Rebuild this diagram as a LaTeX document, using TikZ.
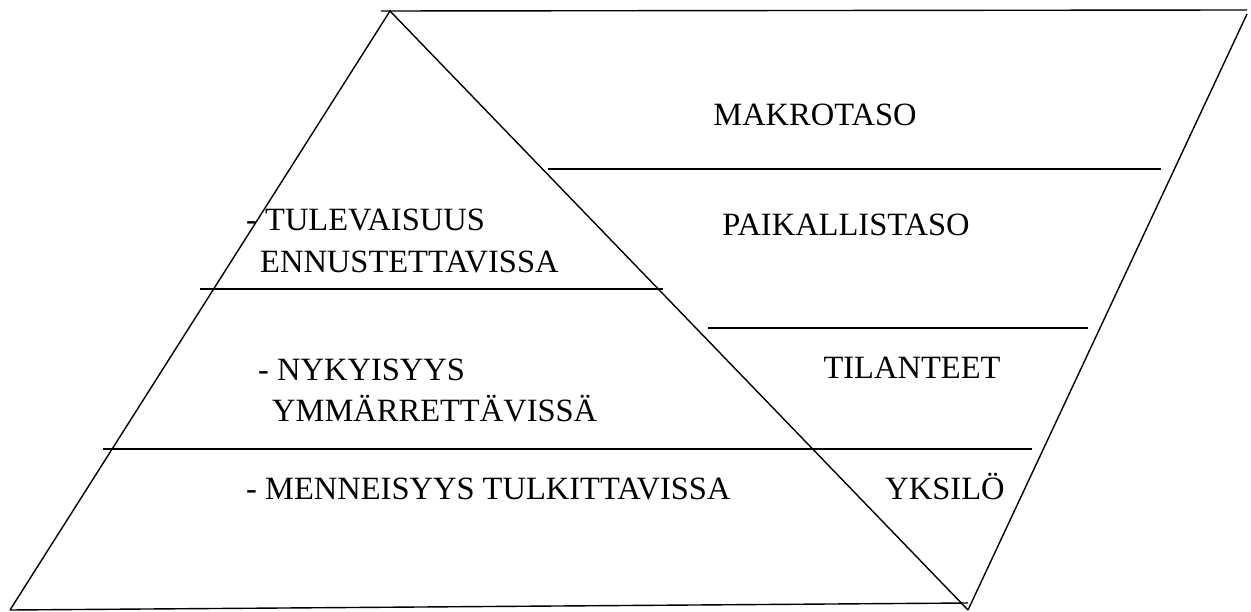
\documentclass[tikz,border=0pt]{standalone}
\usepackage{fontspec}
\setmainfont{Liberation Serif}
\begin{document}
\begin{tikzpicture}[x=1pt,y=-1pt,
  ln/.style={line width=1.4pt,black},
  lbl/.style={anchor=base west,inner sep=0pt,font=\fontsize{32.5}{36}\selectfont},
  lblc/.style={anchor=base,inner sep=0pt,font=\fontsize{32.5}{36}\selectfont}]
\useasboundingbox (0,0) rectangle (1251,612);
% vertices
\coordinate (apex) at (390,11);
\coordinate (bl) at (10,610);
\coordinate (br) at (968,610);
\coordinate (tl) at (381,11);
\coordinate (tr) at (1247,10);
\coordinate (rt) at (1247,14);
\coordinate (bend) at (968,603);
% triangle and parallelogram
\draw[ln] (bl) -- (apex) -- (br);
\draw[ln] (tl) -- (tr);
\draw[ln] (rt) -- (br);
\draw[ln] (bl) -- (bend);
% level lines
\coordinate (a1) at (200,289); \coordinate (a2) at (663,289);
\coordinate (b1) at (103,449); \coordinate (b2) at (1032,449);
\coordinate (c1) at (548,169); \coordinate (c2) at (1161,169);
\coordinate (d1) at (708,328); \coordinate (d2) at (1088,328);
\draw[ln] (a1) -- (a2);
\draw[ln] (b1) -- (b2);
\draw[ln] (c1) -- (c2);
\draw[ln] (d1) -- (d2);
% labels
\node[lblc] (makro) at (815,126) {MAKROTASO};
\node[lblc] (paik) at (846,236) {PAIKALLISTASO};
\node[lblc] (tilan) at (912,379) {TILANTEET};
\node[lblc] (yksi) at (945,499) {YKSILÖ};
\node[lbl] (tul1) at (246,231) {- TULEVAISUUS};
\node[lbl] (tul2) at (260,273) {ENNUSTETTAVISSA};
\node[lbl] (nyk1) at (258,381) {- NYKYISYYS};
\node[lbl] (nyk2) at (272,421) {YMMÄRRETTÄVISSÄ};
\node[lbl] (men) at (246,499) {- MENNEISYYS TULKITTAVISSA};
\end{tikzpicture}
\end{document}
